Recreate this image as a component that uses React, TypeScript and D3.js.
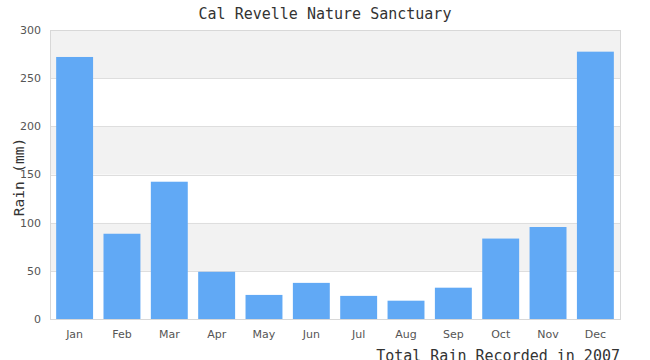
import React from "react";
import * as d3 from "d3";

const months = ["Jan", "Feb", "Mar", "Apr", "May", "Jun", "Jul", "Aug", "Sep", "Oct", "Nov", "Dec"];
const rain = [272, 88.5, 142.5, 49, 25, 37.5, 24, 19, 32.5, 83.5, 95.5, 277.5];
const yTicks = [0, 50, 100, 150, 200, 250, 300];

const W = 650, H = 360;
const M = { left: 50, right: 620, top: 30, bottom: 319 };

export default function App() {
  const x = d3.scaleBand<string>().domain(months).range([M.left, M.right]).paddingInner(0.22).paddingOuter(0.13);
  const y = d3.scaleLinear().domain([0, 300]).range([M.bottom, M.top]);
  const bands = yTicks.slice(0, -1).map((t, i) => ({ lo: t, hi: yTicks[i + 1], fill: i % 2 === 1 ? "#f2f2f2" : "#ffffff" }));
  const mono = "'DejaVu Sans Mono', monospace";
  const sans = "'DejaVu Sans', sans-serif";
  return (
    <svg width={W} height={H} style={{ position: "absolute", left: 0, top: 0, background: "#fff" }}>
      {bands.map((b, i) => (
        <rect key={i} x={M.left} y={y(b.hi)} width={M.right - M.left} height={y(b.lo) - y(b.hi)} fill={b.fill} />
      ))}
      {yTicks.map((t) => (
        <line key={t} x1={M.left} x2={M.right} y1={Math.round(y(t)) + 0.5} y2={Math.round(y(t)) + 0.5} stroke="#dedede" />
      ))}
      {months.map((m, i) => (
        <rect key={m} x={x(m)} y={y(rain[i])} width={x.bandwidth()} height={y(0) - y(rain[i])} fill="#61a9f5" />
      ))}
      <rect x={M.left + 0.5} y={M.top + 0.5} width={M.right - M.left} height={M.bottom - M.top} fill="none" stroke="#d8d8d8" />
      {yTicks.map((t) => (
        <text key={t} x={41} y={y(t)} dy="0.35em" textAnchor="end" fontFamily={sans} fontSize={11} fill="#555">{t}</text>
      ))}
      {months.map((m) => (
        <text key={m} x={(x(m) as number) + x.bandwidth() / 2} y={338} textAnchor="middle" fontFamily={sans} fontSize={11} fill="#555">{m}</text>
      ))}
      <text x={325} y={19} textAnchor="middle" fontFamily={mono} fontSize={15} fill="#333">Cal Revelle Nature Sanctuary</text>
      <text transform="translate(24,177) rotate(-90)" textAnchor="middle" fontFamily={mono} fontSize={14.5} fill="#333">Rain (mm)</text>
      <text x={620} y={361} textAnchor="end" fontFamily={mono} fontSize={15} fill="#333">Total Rain Recorded in 2007</text>
    </svg>
  );
}
